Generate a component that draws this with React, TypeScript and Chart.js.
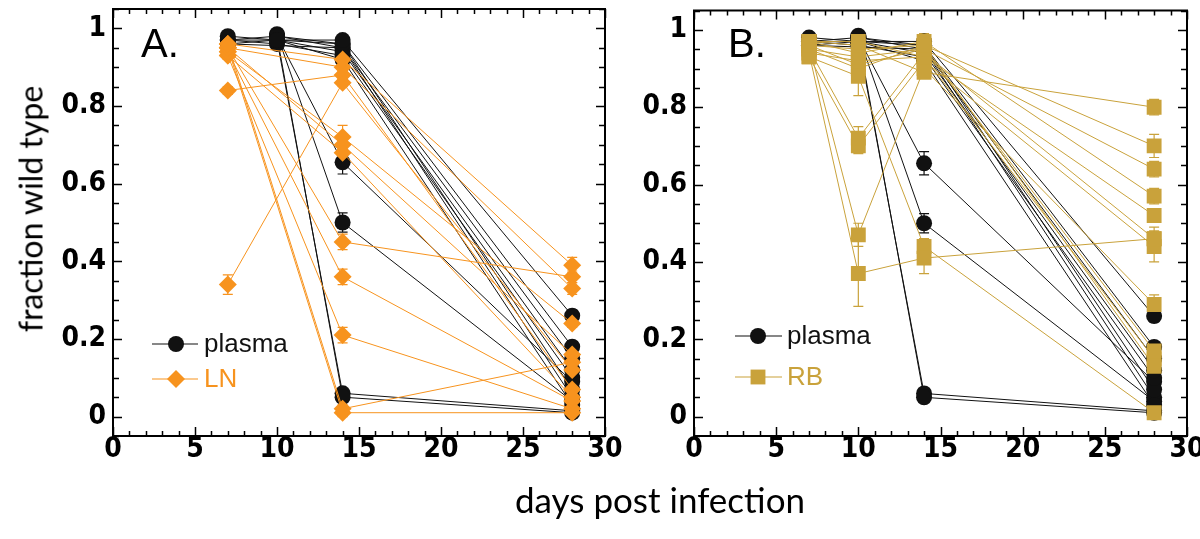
import { useEffect, useRef } from 'react';
import { Chart, registerables } from 'chart.js';

Chart.register(...registerables);

// ---------------- data ----------------
const plasmaDays = [7, 10, 14, 28];
const lnDays = [7, 14, 28];
const rbDays = [7, 10, 14, 28];
const xTickValues = [0, 5, 10, 15, 20, 25, 30];
const yTickValues = [0, 0.2, 0.4, 0.6, 0.8, 1];

// plasma (one entry per animal, null = not sampled)
const plasmaD7: (number | null)[] = [0.98, 0.97, 0.97, 0.96, 0.97, null, null, null, null, null, null, 0.96];
const plasmaD10: (number | null)[] = [0.97, 0.97, 0.98, 0.97, 0.96, 0.98, 0.97, 0.98, 0.985, 0.98, 0.97, null];
const plasmaD14: (number | null)[] = [0.97, 0.96, 0.95, 0.94, 0.93, 0.96, 0.92, 0.655, 0.5, 0.05, 0.06, 0.95];
const plasmaD28: (number | null)[] = [0.26, 0.18, 0.15, 0.12, 0.1, 0.07, 0.03, 0.09, 0.04, 0.01, 0.015, 0.05];
const plasmaErr7 = [0.01, 0.01, 0.01, 0.01, 0.01, 0, 0, 0, 0, 0, 0, 0.01];
const plasmaErr10 = [0.01, 0.01, 0.01, 0.01, 0.01, 0.01, 0.01, 0.01, 0.01, 0.01, 0.01, 0];
const plasmaErr14 = [0.01, 0.01, 0.01, 0.01, 0.01, 0.01, 0.01, 0.03, 0.025, 0.01, 0.01, 0.01];
const plasmaErr28 = [0.015, 0.01, 0.01, 0.01, 0.01, 0.01, 0.01, 0.01, 0.01, 0.01, 0.01, 0.01];

// LN
const lnD7: (number | null)[] = [0.96, 0.95, 0.94, 0.93, 0.95, 0.94, 0.93, 0.95, 0.34, 0.84, 0.96, 0.95];
const lnD14: (number | null)[] = [0.92, 0.9, 0.72, 0.68, 0.45, 0.36, 0.21, 0.01, 0.86, 0.88, 0.02, 0.7];
const lnD28: (number | null)[] = [0.39, 0.33, 0.24, 0.05, 0.36, 0.04, 0.02, 0.01, 0.12, 0.07, 0.14, 0.16];
const lnErr7 = [0.01, 0.01, 0.01, 0.01, 0.01, 0.01, 0.01, 0.01, 0.025, 0.01, 0.01, 0.01];
const lnErr14 = [0.01, 0.01, 0.03, 0.015, 0.02, 0.02, 0.02, 0.01, 0.01, 0.01, 0.01, 0.015];
const lnErr28 = [0.02, 0.015, 0.01, 0.01, 0.015, 0.01, 0.01, 0.01, 0.01, 0.01, 0.01, 0.01];

// RB
const rbD7: (number | null)[] = [0.97, 0.96, 0.95, 0.97, 0.94, 0.95, 0.93, 0.96, 0.94, 0.93, 0.96, 0.95, 0.97];
const rbD10: (number | null)[] = [0.96, 0.95, 0.93, 0.94, 0.92, 0.72, 0.7, 0.47, 0.37, 0.88, 0.91, 0.9, 0.97];
const rbD14: (number | null)[] = [0.89, 0.96, 0.95, 0.97, 0.93, 0.94, 0.92, 0.9, 0.41, 0.44, 0.95, 0.96, 0.93];
const rbD28: (number | null)[] = [0.8, 0.7, 0.64, 0.57, 0.52, 0.46, 0.44, 0.29, 0.46, 0.01, 0.17, 0.13, 0.15];
const rbErr7 = [0.01, 0.01, 0.01, 0.02, 0.01, 0.01, 0.01, 0.01, 0.01, 0.01, 0.01, 0.01, 0.01];
const rbErr10 = [0.01, 0.01, 0.01, 0.01, 0.01, 0.03, 0.02, 0.03, 0.085, 0.05, 0.01, 0.01, 0.01];
const rbErr14 = [0.01, 0.01, 0.01, 0.02, 0.01, 0.01, 0.01, 0.01, 0.04, 0.02, 0.01, 0.01, 0.01];
const rbErr28 = [0.02, 0.03, 0.02, 0.02, 0.01, 0.03, 0.04, 0.025, 0.02, 0.01, 0.02, 0.01, 0.01];

// ---------------- styles ----------------
const ORANGE = '#F7931E';
const GOLD = '#C9A23B';
const BLACK = '#111111';
const TICK_FAMILY = "'Liberation Sans Narrow', 'DejaVu Sans Condensed', 'Liberation Sans', sans-serif";
const TEXT_FAMILY = "'Liberation Sans', Arial, sans-serif";
const TITLE_FAMILY = "Lato, 'Liberation Sans', sans-serif";

type Pt = { x: number; y: number };

function buildSeries(cols: (number | null)[][], errCols: number[][], dayList: number[]) {
  const n = cols[0].length;
  const out: { points: Pt[]; errs: number[] }[] = [];
  for (let i = 0; i < n; i++) {
    const points: Pt[] = [];
    const errs: number[] = [];
    cols.forEach((col, k) => {
      const v = col[i];
      if (v !== null && v !== undefined) {
        points.push({ x: dayList[k], y: v });
        errs.push(errCols[k][i] || 0);
      }
    });
    out.push({ points, errs });
  }
  return out;
}

function makeDatasets(
  series: { points: Pt[]; errs: number[] }[],
  color: string,
  style: string,
  radius: number
) {
  return series.map((s) => ({
    data: s.points,
    errorBars: s.errs,
    borderColor: color,
    backgroundColor: color,
    borderWidth: 1,
    pointStyle: style,
    pointRadius: radius,
    pointBackgroundColor: color,
    pointBorderColor: color,
    pointBorderWidth: 0,
    pointHoverRadius: radius,
    tension: 0,
    fill: false,
  }));
}

// error bars drawn under markers
const errorBarPlugin = {
  id: 'errorBars',
  beforeDatasetsDraw(chart: any) {
    const ctx = chart.ctx;
    const yScale = chart.scales.y;
    for (let i = chart.data.datasets.length - 1; i >= 0; i--) {
      const ds: any = chart.data.datasets[i];
      if (!ds.errorBars) continue;
      const meta = chart.getDatasetMeta(i);
      ctx.save();
      ctx.strokeStyle = ds.borderColor;
      ctx.lineWidth = 1.2;
      meta.data.forEach((pt: any, j: number) => {
        const e = ds.errorBars[j];
        if (!e) return;
        const v = ds.data[j].y;
        const yt = yScale.getPixelForValue(v + e);
        const yb = yScale.getPixelForValue(v - e);
        ctx.beginPath();
        ctx.moveTo(pt.x, yt);
        ctx.lineTo(pt.x, yb);
        ctx.moveTo(pt.x - 5, yt);
        ctx.lineTo(pt.x + 5, yt);
        ctx.moveTo(pt.x - 5, yb);
        ctx.lineTo(pt.x + 5, yb);
        ctx.stroke();
      });
      ctx.restore();
    }
  },
};

// box frame with inward ticks on all four sides
const framePlugin = {
  id: 'frame',
  afterDatasetsDraw(chart: any) {
    const ctx = chart.ctx;
    const { left, right, top, bottom } = chart.chartArea;
    const xs = chart.scales.x;
    const ys = chart.scales.y;
    ctx.save();
    ctx.strokeStyle = '#000';
    ctx.lineWidth = 1.5;
    ctx.beginPath();
    for (let d = 0; d <= 30; d++) {
      const px = Math.round(xs.getPixelForValue(d)) + 0.5;
      const len = d % 5 === 0 ? 9 : 5;
      ctx.moveTo(px, bottom);
      ctx.lineTo(px, bottom - len);
      ctx.moveTo(px, top);
      ctx.lineTo(px, top + len);
    }
    for (let k = -1; k <= 21; k++) {
      const py = Math.round(ys.getPixelForValue(k * 0.05)) + 0.5;
      const len = k % 4 === 0 ? 9 : 6;
      ctx.moveTo(left, py);
      ctx.lineTo(left + len, py);
      ctx.moveTo(right, py);
      ctx.lineTo(right - len, py);
    }
    ctx.stroke();
    ctx.lineWidth = 2;
    ctx.strokeRect(left, top, right - left, bottom - top);
    ctx.restore();
  },
};

// in-plot legend and panel letter
const panelLegendPlugin = {
  id: 'panelLegend',
  afterDraw(chart: any, _args: any, opts: any) {
    const ctx = chart.ctx;
    ctx.save();
    ctx.fillStyle = '#000';
    ctx.font = `40px ${TEXT_FAMILY}`;
    ctx.textBaseline = 'alphabetic';
    ctx.fillText(opts.letter, opts.letterX, opts.letterY);
    const items = opts.items || [];
    items.forEach((it: any, idx: number) => {
      const y = opts.y0 + idx * opts.dy;
      ctx.strokeStyle = it.color;
      ctx.lineWidth = 1.2;
      ctx.beginPath();
      ctx.moveTo(opts.x1, y);
      ctx.lineTo(opts.x2, y);
      ctx.stroke();
      ctx.fillStyle = it.color;
      const mx = opts.mx;
      const r = it.radius;
      ctx.beginPath();
      if (it.style === 'circle') {
        ctx.arc(mx, y, r, 0, Math.PI * 2);
      } else if (it.style === 'rectRot') {
        ctx.moveTo(mx - r, y);
        ctx.lineTo(mx, y - r);
        ctx.lineTo(mx + r, y);
        ctx.lineTo(mx, y + r);
        ctx.closePath();
      } else {
        const h = r * Math.SQRT1_2;
        ctx.rect(mx - h, y - h, 2 * h, 2 * h);
      }
      ctx.fill();
      ctx.font = `26px ${TEXT_FAMILY}`;
      ctx.fillStyle = it.textColor;
      ctx.textBaseline = 'middle';
      ctx.fillText(it.label, opts.tx, y + 1);
    });
    ctx.restore();
  },
};

function makeConfig(datasets: any[], yAxisWidth: number, padRight: number, legendOpts: any) {
  const tickFont = { family: TICK_FAMILY, size: 28, weight: 'bold' as const, lineHeight: 1 };
  return {
    type: 'line' as const,
    data: { datasets },
    plugins: [errorBarPlugin, framePlugin, panelLegendPlugin],
    options: {
      animation: false as const,
      responsive: false,
      maintainAspectRatio: false,
      events: [] as any[],
      layout: { padding: { top: 1, right: padRight, left: 0, bottom: 0 } },
      plugins: {
        legend: { display: false },
        tooltip: { enabled: false },
        panelLegend: legendOpts,
      },
      scales: {
        x: {
          type: 'linear' as const,
          min: 0,
          max: 30,
          grid: { display: false, drawTicks: false },
          border: { display: false },
          afterBuildTicks: (s: any) => {
            s.ticks = xTickValues.map((v) => ({ value: v }));
          },
          afterFit: (s: any) => {
            s.height = 103;
            s.paddingLeft = 0;
            s.paddingRight = 0;
          },
          ticks: {
            font: tickFont,
            color: '#000',
            padding: 0,
            autoSkip: false,
            maxRotation: 0,
            minRotation: 0,
            callback: (v: any) => String(v),
          },
        },
        y: {
          type: 'linear' as const,
          min: -0.05,
          max: 1.05,
          grid: { display: false, drawTicks: false },
          border: { display: false },
          afterBuildTicks: (s: any) => {
            s.ticks = yTickValues.map((v) => ({ value: v }));
          },
          afterFit: (s: any) => {
            s.width = yAxisWidth;
            s.paddingTop = 0;
            s.paddingBottom = 0;
          },
          ticks: {
            font: tickFont,
            color: '#000',
            padding: 7,
            callback: (v: any) => String(Number(Number(v).toFixed(2))),
          },
        },
      },
    },
  };
}

function Panel(props: { left: number; width: number; build: () => any }) {
  const ref = useRef<HTMLCanvasElement | null>(null);
  useEffect(() => {
    const chart = new Chart(ref.current as HTMLCanvasElement, props.build());
    return () => chart.destroy();
  }, []);
  return (
    <canvas
      ref={ref}
      width={props.width}
      height={539}
      style={{ position: 'absolute', left: props.left, top: 0, width: props.width, height: 539 }}
    />
  );
}

export default function App() {
  const plasmaSeries = buildSeries(
    [plasmaD7, plasmaD10, plasmaD14, plasmaD28],
    [plasmaErr7, plasmaErr10, plasmaErr14, plasmaErr28],
    plasmaDays
  );
  const lnSeries = buildSeries([lnD7, lnD14, lnD28], [lnErr7, lnErr14, lnErr28], lnDays);
  const rbSeries = buildSeries([rbD7, rbD10, rbD14, rbD28], [rbErr7, rbErr10, rbErr14, rbErr28], rbDays);

  const buildLeft = () =>
    makeConfig(
      [...makeDatasets(lnSeries, ORANGE, 'rectRot', 9), ...makeDatasets(plasmaSeries, BLACK, 'circle', 8)],
      113,
      25,
      {
        letter: 'A.',
        letterX: 141,
        letterY: 57,
        x1: 152,
        x2: 198,
        mx: 176,
        tx: 204,
        y0: 344,
        dy: 35,
        items: [
          { label: 'plasma', color: BLACK, textColor: BLACK, style: 'circle', radius: 8 },
          { label: 'LN', color: ORANGE, textColor: ORANGE, style: 'rectRot', radius: 9 },
        ],
      }
    );
  const buildRight = () =>
    makeConfig(
      [...makeDatasets(rbSeries, GOLD, 'rect', 10.5), ...makeDatasets(plasmaSeries, BLACK, 'circle', 8)],
      64,
      13,
      {
        letter: 'B.',
        letterX: 98,
        letterY: 57,
        x1: 105,
        x2: 152,
        mx: 128,
        tx: 157,
        y0: 336,
        dy: 41,
        items: [
          { label: 'plasma', color: BLACK, textColor: BLACK, style: 'circle', radius: 8 },
          { label: 'RB', color: GOLD, textColor: GOLD, style: 'rect', radius: 10.5 },
        ],
      }
    );

  return (
    <div style={{ position: 'absolute', left: 0, top: 0, width: 1200, height: 539, background: '#fff', overflow: 'hidden' }}>
      <Panel left={0} width={630} build={buildLeft} />
      <Panel left={630} width={570} build={buildRight} />
      <div
        style={{
          position: 'absolute',
          left: 30,
          top: 209,
          transform: 'translate(-50%, -50%) rotate(-90deg)',
          whiteSpace: 'nowrap',
          fontFamily: TITLE_FAMILY,
          fontWeight: 400,
          fontSize: 32,
          color: '#000',
        }}
      >
        fraction wild type
      </div>
      <div
        style={{
          position: 'absolute',
          left: 660,
          top: 499,
          transform: 'translate(-50%, -50%)',
          whiteSpace: 'nowrap',
          fontFamily: TITLE_FAMILY,
          fontWeight: 400,
          fontSize: 35,
          color: '#000',
        }}
      >
        days post infection
      </div>
    </div>
  );
}
